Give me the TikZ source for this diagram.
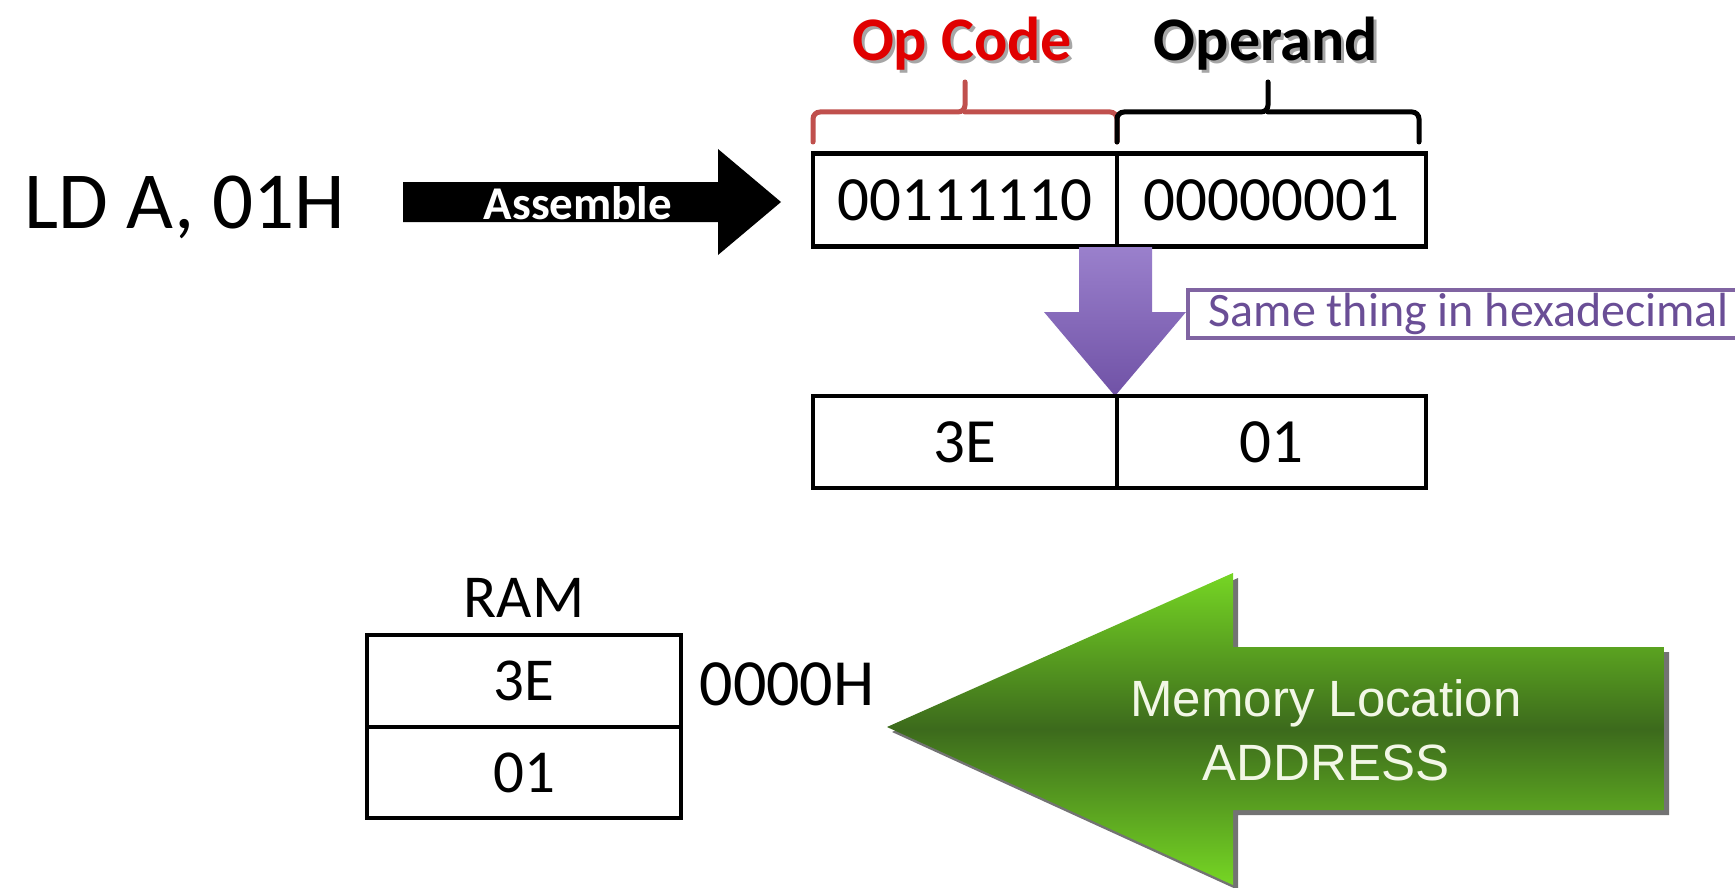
\documentclass[tikz,border=0pt]{standalone}
\usepackage{fontspec}
\setmainfont{Carlito}
\newfontfamily\arialf{Liberation Sans}
\usetikzlibrary{calc}

\definecolor{bracered}{HTML}{C0504D}
\definecolor{opred}{HTML}{E00000}
\definecolor{notepurple}{HTML}{8064A2}
\definecolor{notetext}{HTML}{6A4E96}
\definecolor{purplelight}{HTML}{9A80CC}
\definecolor{purpledark}{HTML}{7052A6}
\definecolor{greenlight}{HTML}{76D624}
\definecolor{greendark}{HTML}{3C6A1C}
\definecolor{greentext}{HTML}{F2F7E6}

\tikzset{
  cell/.style={draw=black, line width=4.5pt, inner sep=0pt},
  bigtxt/.style={font=\fontsize{63}{63}\selectfont},
  ramtxt/.style={font=\fontsize{61}{61}\selectfont},
  headtxt/.style={font=\bfseries\fontsize{62}{62}\selectfont, anchor=base},
  brace/.style={line width=5pt, rounded corners=7pt, line cap=round},
}

\begin{document}
\begin{tikzpicture}[x=1pt,y=-1pt]
\useasboundingbox (0,0) rectangle (1735,888);
\clip (0,0) rectangle (1735,888);
\fill[white] (0,0) rectangle (1735,888);

% source statement
\node[anchor=base west, font=\fontsize{81}{81}\selectfont] (src) at (21,228) {LD A, 01H};

% assemble arrow
\fill[black] (403,182) -- (718,182) -- (718,149) -- (781,202) -- (718,255) -- (718,222) -- (403,222) -- cycle;
\node[font=\bfseries\fontsize{47}{47}\selectfont, text=white] (asm) at (578,203) {Assemble};

% field headings with soft shadows
\node[headtxt, text=black!35] (opcodesh) at (965,64) {Op Code};
\node[headtxt, text=opred] (opcode) at (962,61) {Op Code};
\node[headtxt, text=black!35] (operandsh) at (1269,64) {Operand};
\node[headtxt, text=black] (operand) at (1266,61) {Operand};

% braces over the two fields
\draw[brace, bracered] (813,142) -- (813,112) -- (965,112) -- (965,82);
\draw[brace, bracered] (1117,142) -- (1117,112) -- (965,112);
\draw[brace, black] (1117,142) -- (1117,112) -- (1268,112) -- (1268,82);
\draw[brace, black] (1419,142) -- (1419,112) -- (1268,112);

% binary instruction
\node[cell, bigtxt, minimum width=304pt, minimum height=93pt] (bin1) at (965,200) {00111110};
\node[cell, bigtxt, minimum width=309pt, minimum height=93pt] (bin2) at (1271.5,200) {00000001};

% conversion arrow
\shade[top color=purplelight, bottom color=purpledark]
  (1079,247) -- (1152,247) -- (1152,312) -- (1186,312) -- (1115,396)
  -- (1044,312) -- (1079,312) -- cycle;

% note
\node[draw=notepurple, line width=3.5pt, fill=white, anchor=west, inner xsep=21pt,
      minimum height=48pt, text=notetext, font=\fontsize{48}{48}\selectfont]
      (note) at (1186,314) {Same thing in hexadecimal};

% hexadecimal instruction
\node[cell, bigtxt, minimum width=304pt, minimum height=92pt] (hex1) at (965,442) {3E};
\node[cell, bigtxt, minimum width=309pt, minimum height=92pt] (hex2) at (1271.5,442) {01};

% memory
\node[ramtxt, anchor=base] (ramlbl) at (524,617) {RAM};
\node[cell, ramtxt, minimum width=314pt, minimum height=92pt] (ram0) at (524,681) {3E};
\node[cell, ramtxt, minimum width=314pt, minimum height=91pt] (ram1) at (524,772.5) {01};
\node[font=\fontsize{66}{66}\selectfont, anchor=base west] (addr) at (696,705) {0000H};

% address arrow
\fill[black, opacity=0.55, shift={(5,5)}]
  (887,727) -- (1233,573) -- (1233,647) -- (1664,647) -- (1664,810)
  -- (1233,810) -- (1233,885) -- cycle;
\shade[top color=greenlight, bottom color=greenlight, middle color=greendark]
  (887,727) -- (1233,573) -- (1233,647) -- (1664,647) -- (1664,810)
  -- (1233,810) -- (1233,885) -- cycle;
\node[font=\arialf\fontsize{51}{64}\selectfont, text=greentext, align=center] (memloc) at (1326,730) {Memory Location\\ADDRESS};
\end{tikzpicture}
\end{document}
